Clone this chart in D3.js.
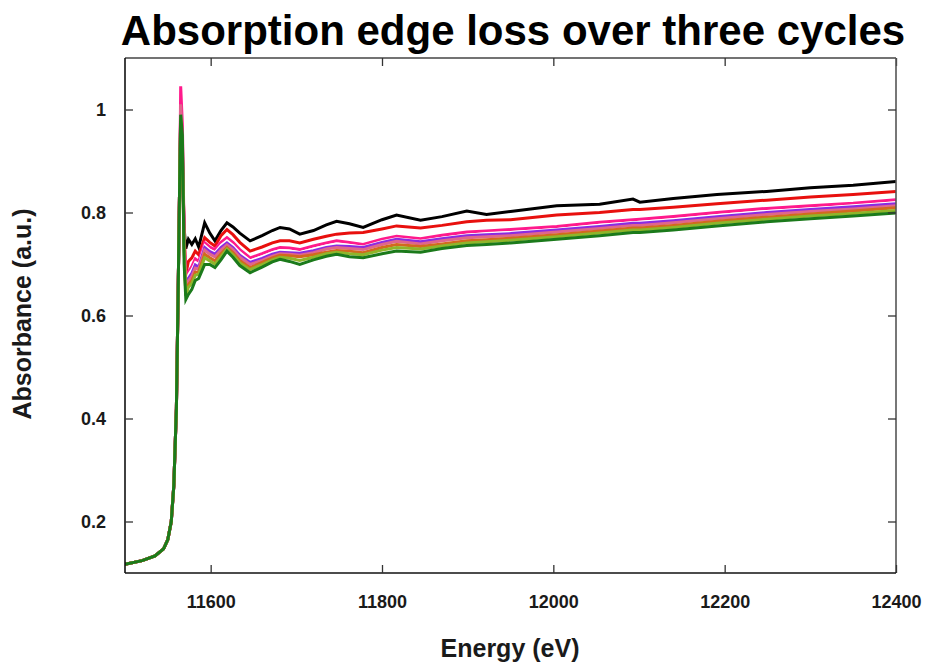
<!DOCTYPE html>
<html>
<head>
<meta charset="utf-8">
<script src="https://cdn.jsdelivr.net/npm/d3@7"></script>
<style>
  html, body { margin: 0; padding: 0; background: #fff; }
  svg { display: block; font-family: "Liberation Sans", Arial, sans-serif; }
</style>
</head>
<body>
<svg id="chart" width="928" height="662"></svg>
<script>
// ---------------- data ----------------
const energies = [11500, 11520, 11535, 11545, 11550, 11554, 11557, 11560, 11562, 11564, 11565, 11567, 11569,
  11571, 11574, 11578, 11582, 11586, 11593, 11599, 11605, 11612, 11619, 11626, 11634, 11646, 11660, 11672,
  11681, 11692, 11704, 11720, 11735, 11747, 11762, 11778, 11800, 11817, 11845, 11870, 11899, 11922, 11950,
  12004, 12054, 12093, 12101, 12140, 12191, 12249, 12300, 12350, 12400];

const seriesNames = ["s1", "s2", "s3", "s4", "s5", "s6", "s7", "s8", "s9"];
const seriesColors = ["#000000", "#e8100e", "#ff1a8c", "#ffffff", "#8a2be2", "#e0668c", "#d2691e", "#8fb52a", "#1b7a1b"];

const s1 = [0.117, 0.124, 0.133, 0.147, 0.165, 0.200, 0.27, 0.42, 0.64, 0.88, 0.96, 0.90, 0.77,
  0.730, 0.748, 0.738, 0.749, 0.733, 0.780, 0.760, 0.745, 0.765, 0.780, 0.772, 0.760, 0.745, 0.755, 0.765,
  0.771, 0.768, 0.758, 0.765, 0.776, 0.783, 0.778, 0.771, 0.786, 0.795, 0.785, 0.792, 0.803, 0.796, 0.802,
  0.813, 0.816, 0.826, 0.820, 0.827, 0.835, 0.841, 0.848, 0.853, 0.860];
const s2 = [0.117, 0.124, 0.133, 0.147, 0.165, 0.200, 0.27, 0.42, 0.64, 0.88, 1.00, 0.93, 0.76,
  0.680, 0.705, 0.712, 0.725, 0.718, 0.751, 0.742, 0.735, 0.755, 0.767, 0.757, 0.742, 0.725, 0.733, 0.741,
  0.745, 0.745, 0.741, 0.748, 0.754, 0.758, 0.760, 0.761, 0.768, 0.774, 0.770, 0.775, 0.782, 0.785, 0.786,
  0.795, 0.800, 0.806, 0.806, 0.810, 0.817, 0.824, 0.830, 0.835, 0.841];
const s3 = [0.117, 0.124, 0.133, 0.147, 0.165, 0.200, 0.27, 0.42, 0.64, 0.88, 1.045, 0.97, 0.76,
  0.660, 0.685, 0.695, 0.710, 0.705, 0.741, 0.733, 0.728, 0.742, 0.751, 0.742, 0.728, 0.712, 0.720, 0.728,
  0.732, 0.731, 0.728, 0.735, 0.741, 0.745, 0.742, 0.738, 0.748, 0.754, 0.749, 0.756, 0.762, 0.764, 0.767,
  0.773, 0.781, 0.786, 0.787, 0.792, 0.800, 0.808, 0.813, 0.818, 0.825];
const s4 = [0.117, 0.124, 0.133, 0.147, 0.165, 0.200, 0.27, 0.42, 0.64, 0.88, 1.00, 0.93, 0.75,
  0.655, 0.680, 0.690, 0.704, 0.700, 0.737, 0.728, 0.723, 0.737, 0.746, 0.737, 0.723, 0.707, 0.715, 0.723,
  0.727, 0.726, 0.723, 0.730, 0.736, 0.740, 0.737, 0.734, 0.744, 0.750, 0.745, 0.751, 0.757, 0.760, 0.762,
  0.768, 0.776, 0.781, 0.782, 0.787, 0.795, 0.803, 0.808, 0.814, 0.820];
const s5 = [0.117, 0.124, 0.133, 0.147, 0.165, 0.200, 0.27, 0.42, 0.64, 0.88, 0.99, 0.92, 0.74,
  0.650, 0.672, 0.682, 0.698, 0.694, 0.732, 0.724, 0.719, 0.732, 0.741, 0.732, 0.717, 0.703, 0.711, 0.719,
  0.723, 0.722, 0.721, 0.726, 0.732, 0.735, 0.734, 0.732, 0.742, 0.748, 0.743, 0.749, 0.755, 0.757, 0.759,
  0.766, 0.773, 0.779, 0.779, 0.784, 0.792, 0.800, 0.806, 0.811, 0.817];
const s6 = [0.117, 0.124, 0.133, 0.147, 0.165, 0.200, 0.27, 0.42, 0.64, 0.88, 1.01, 0.94, 0.75,
  0.645, 0.667, 0.676, 0.692, 0.690, 0.727, 0.719, 0.714, 0.727, 0.737, 0.728, 0.713, 0.699, 0.707, 0.715,
  0.720, 0.719, 0.717, 0.722, 0.729, 0.732, 0.730, 0.728, 0.738, 0.744, 0.739, 0.745, 0.751, 0.753, 0.755,
  0.762, 0.769, 0.775, 0.775, 0.780, 0.788, 0.796, 0.802, 0.807, 0.813];
const s7 = [0.117, 0.124, 0.133, 0.147, 0.165, 0.200, 0.27, 0.42, 0.64, 0.88, 0.98, 0.91, 0.73,
  0.640, 0.660, 0.668, 0.684, 0.685, 0.719, 0.712, 0.706, 0.720, 0.732, 0.722, 0.707, 0.693, 0.703, 0.712,
  0.717, 0.716, 0.714, 0.718, 0.723, 0.726, 0.725, 0.722, 0.732, 0.738, 0.734, 0.739, 0.745, 0.747, 0.750,
  0.757, 0.764, 0.770, 0.770, 0.775, 0.783, 0.791, 0.797, 0.803, 0.809];
const s8 = [0.117, 0.124, 0.133, 0.147, 0.165, 0.200, 0.27, 0.42, 0.64, 0.88, 0.985, 0.92, 0.73,
  0.638, 0.655, 0.662, 0.678, 0.680, 0.712, 0.706, 0.700, 0.714, 0.729, 0.718, 0.702, 0.689, 0.699, 0.708,
  0.713, 0.711, 0.707, 0.713, 0.720, 0.723, 0.720, 0.718, 0.727, 0.732, 0.729, 0.735, 0.741, 0.743, 0.746,
  0.753, 0.760, 0.766, 0.766, 0.771, 0.779, 0.787, 0.793, 0.798, 0.804];
const s9 = [0.117, 0.124, 0.133, 0.147, 0.165, 0.200, 0.27, 0.42, 0.64, 0.88, 0.99, 0.95, 0.70,
  0.631, 0.641, 0.651, 0.668, 0.672, 0.699, 0.699, 0.693, 0.708, 0.725, 0.713, 0.697, 0.683, 0.694, 0.704,
  0.709, 0.705, 0.699, 0.708, 0.715, 0.719, 0.714, 0.712, 0.720, 0.725, 0.723, 0.730, 0.736, 0.738, 0.741,
  0.748, 0.755, 0.761, 0.761, 0.766, 0.774, 0.782, 0.788, 0.793, 0.799];

const seriesValues = [s1, s2, s3, s4, s5, s6, s7, s8, s9];

const xTicks = [11600, 11800, 12000, 12200, 12400];
const yTicks = [0.2, 0.4, 0.6, 0.8, 1];

const titleText = "Absorption edge loss over three cycles";
const xLabel = "Energy (eV)";
const yLabel = "Absorbance (a.u.)";

// ---------------- drawing ----------------
const svg = d3.select("#chart");
const margin = { left: 125, right: 32, top: 58, bottom: 89 };
const W = 928, H = 662;
const x = d3.scaleLinear().domain([11500, 12400]).range([margin.left, W - margin.right]);
const y = d3.scaleLinear().domain([0.1, 1.1]).range([H - margin.bottom, margin.top]);

const textColor = "#1a1a1a";

svg.append("text")
  .attr("x", 513).attr("y", 45)
  .attr("text-anchor", "middle")
  .attr("font-size", 42).attr("font-weight", "bold")
  .attr("fill", "#000")
  .text(titleText);

// lines
const plot = svg.append("g");
const clipId = "clip";
svg.append("clipPath").attr("id", clipId).append("rect")
  .attr("x", x.range()[0]).attr("y", y.range()[1])
  .attr("width", x.range()[1] - x.range()[0])
  .attr("height", y.range()[0] - y.range()[1]);

const line = d3.line()
  .x((d, i) => x(energies[i]))
  .y(d => y(d))
  .curve(d3.curveLinear);

plot.attr("clip-path", `url(#${clipId})`);
seriesValues.forEach((vals, k) => {
  plot.append("path")
    .datum(vals)
    .attr("fill", "none")
    .attr("stroke", seriesColors[k])
    .attr("stroke-width", k === 3 ? 2 : 3)
    .attr("stroke-linejoin", "miter")
    .attr("d", line);
});

// axes (inward ticks, mirrored)
const tickLen = 8;
const bottomAxis = d3.axisBottom(x).tickValues(xTicks).tickSize(-tickLen).tickPadding(22).tickFormat(d3.format("d"));
const topAxis = d3.axisTop(x).tickValues(xTicks).tickSize(-tickLen).tickFormat("");
const leftAxis = d3.axisLeft(y).tickValues(yTicks).tickSize(-tickLen).tickPadding(19).tickFormat(d => d3.format("")(d));
const rightAxis = d3.axisRight(y).tickValues(yTicks).tickSize(-tickLen).tickFormat("");

function styleAxis(g, stroke) {
  g.select(".domain").attr("stroke", stroke).attr("stroke-width", 1.6);
  g.selectAll(".tick line").attr("stroke", "#333").attr("stroke-width", 1.3);
  g.selectAll(".tick text").attr("fill", textColor).attr("font-size", 18).attr("font-weight", "bold")
    .attr("font-family", "'Liberation Sans', Arial, sans-serif");
}

svg.append("g").attr("transform", `translate(0,${y.range()[1]})`).call(topAxis)
  .call(g => styleAxis(g, "#444"))
  .call(g => g.select(".domain").attr("d", `M${x.range()[0]},0H${x.range()[1]}`));
svg.append("g").attr("transform", `translate(${x.range()[1]},0)`).call(rightAxis)
  .call(g => styleAxis(g, "#555"))
  .call(g => g.select(".domain").attr("d", `M0,${y.range()[0]}V${y.range()[1]}`));
svg.append("g").attr("transform", `translate(0,${y.range()[0]})`).call(bottomAxis)
  .call(g => styleAxis(g, "#111"))
  .call(g => g.select(".domain").attr("d", `M${x.range()[0]},0H${x.range()[1]}`));
svg.append("g").attr("transform", `translate(${x.range()[0]},0)`).call(leftAxis)
  .call(g => styleAxis(g, "#111"))
  .call(g => g.select(".domain").attr("d", `M0,${y.range()[0]}V${y.range()[1]}`));

// axis labels
svg.append("text")
  .attr("x", 510).attr("y", 657)
  .attr("text-anchor", "middle")
  .attr("font-size", 25).attr("font-weight", "bold")
  .attr("fill", textColor)
  .text(xLabel);

svg.append("text")
  .attr("transform", `translate(31,${314}) rotate(-90)`)
  .attr("text-anchor", "middle")
  .attr("font-size", 25).attr("font-weight", "bold")
  .attr("fill", textColor)
  .text(yLabel);
</script>
</body>
</html>
